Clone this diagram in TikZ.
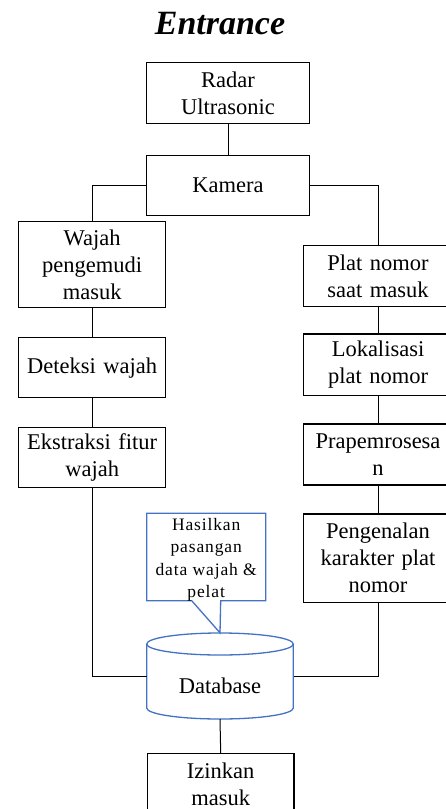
\documentclass[tikz,border=0pt]{standalone}
\usepackage{fontspec}
\setmainfont{Liberation Serif}
\definecolor{calloutblue}{HTML}{4472C4}
\newcommand{\mainsz}{\fontsize{22.5}{27}\selectfont}
\newcommand{\notesz}{\fontsize{17.5}{22.4}\selectfont\addfontfeature{LetterSpace=5}}
\begin{document}
\begin{tikzpicture}[x=1pt,y=-1pt,
  box/.style={draw, line width=1.4pt, anchor=north west, inner sep=0pt, align=center, font=\mainsz},
  rbox/.style={box, draw=none},
  edge/.style={line width=1.4pt, line cap=rect},
  conn/.style={draw, line width=1pt},
  blueline/.style={draw=calloutblue, line width=1.3pt}]
\useasboundingbox (0,0) rectangle (446,809);
\clip (0,0) rectangle (446,809);
\fill[white] (0,0) rectangle (446,809);

\node[font=\bfseries\itshape\fontsize{34}{40}\selectfont, anchor=base] (title) at (220,34) {Entrance};

\node[box, minimum width=163.3pt, minimum height=61pt, text width=163.3pt] (radar) at (145.7,62) {Radar\\Ultrasonic};
\node[box, minimum width=163.3pt, minimum height=60pt, text width=163.3pt] (kamera) at (145.7,155) {Kamera};

\node[box, minimum width=147pt, minimum height=86pt, text width=147pt] (wajah) at (18,221) {Wajah\\pengemudi\\masuk};
\node[box, minimum width=147pt, minimum height=60pt, text width=147pt] (deteksi) at (18,337) {Deteksi wajah};
\node[box, minimum width=147pt, minimum height=60pt, text width=147pt] (ekstraksi) at (18,427) {Ekstraksi fitur\\wajah};

% right column boxes run past the page edge
\node[rbox, minimum width=148pt, minimum height=59.5pt, text width=148pt] (plat) at (303.3,245.7) {Plat nomor\\saat masuk};
\node[rbox, minimum width=148pt, minimum height=60pt, text width=148pt] (lokal) at (303.3,334) {Lokalisasi\\plat nomor};
\node[rbox, minimum width=148pt, minimum height=59.5pt, text width=148pt] (prap) at (303.3,424) {Prapemrosesa\\n};
\node[rbox, minimum width=148pt, minimum height=87pt, text width=148pt] (pengenal) at (303.3,514) {Pengenalan\\karakter plat\\nomor};
\foreach \b in {plat,lokal,prap,pengenal}{
  \draw[edge] (\b.north east) -- (\b.north west) -- (\b.south west) -- (\b.south east);
}

\node[box, minimum width=146.6pt, minimum height=61pt, text width=146.6pt] (izinkan) at (146.7,753) {Izinkan\\masuk};

% database cylinder
\node[minimum width=146.6pt, minimum height=86pt, inner sep=0pt] (db) at (220,676) {};
\fill[white] (146.7,644) -- (146.7,708) arc[start angle=180, end angle=0, x radius=73.3, y radius=11] -- (293.3,644) -- cycle;
\draw[blueline] (220,644) ellipse [x radius=73.3, y radius=11];
\draw[blueline] (146.7,644) -- (146.7,708) arc[start angle=180, end angle=0, x radius=73.3, y radius=11] -- (293.3,644);
\node[font=\mainsz, anchor=base, inner sep=0pt] (dbtext) at (220,693) {Database};

% callout
\filldraw[fill=white, blueline, line join=miter] (146.7,513.3) -- (265.7,513.3) -- (265.7,600.7) -- (220.7,600.7) -- (db.north) -- (191.7,600.7) -- (146.7,600.7) -- cycle;
\node[anchor=north, inner sep=0pt, align=center, font=\notesz] (note) at (206.2,518) {Hasilkan\\pasangan\\data wajah \&\\pelat};

% connectors
\draw[conn] (radar.south) -- (kamera.north);
\draw[conn] (kamera.west) -| (wajah.north);
\draw[conn] (kamera.east) -| (plat.north);
\draw[conn] (wajah.south) -- (deteksi.north);
\draw[conn] (deteksi.south) -- (ekstraksi.north);
\draw[conn] (ekstraksi.south) |- (db.west);
\draw[conn] (plat.south) -- (lokal.north);
\draw[conn] (lokal.south) -- (prap.north);
\draw[conn] (prap.south) -- (pengenal.north);
\draw[conn] (pengenal.south) |- (db.east);
\draw[conn] (db.south) -- (izinkan.north);
\end{tikzpicture}
\end{document}
